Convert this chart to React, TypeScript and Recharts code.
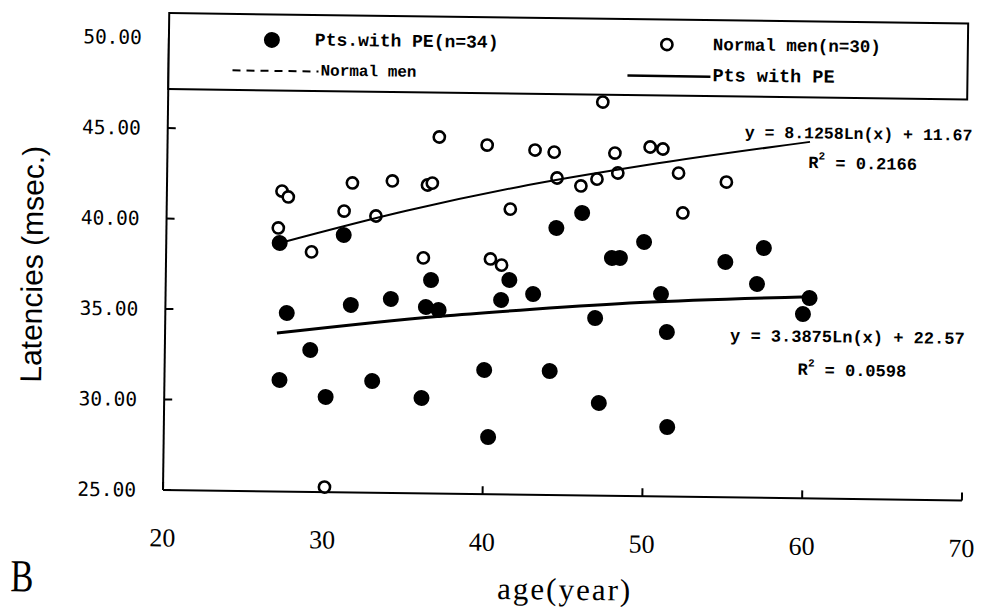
import React from 'react';
import { ScatterChart, Scatter, XAxis, YAxis } from 'recharts';

const ageTicks = [20, 30, 40, 50, 60, 70];
const latencyTicks = [25, 30, 35, 40, 45, 50];

// Pts. with PE (n=34) - filled dots
const peAges = [27.1, 27.6, 27.2, 29.1, 31.1, 31.6, 30.1, 33.0, 34.1, 36.1, 36.3, 37.1, 36.6, 40.0, 40.3, 41.0, 41.5, 43.0, 44.4, 44.1, 46.0, 46.9, 47.2, 47.9, 48.4, 49.9, 51.0, 51.4, 51.5, 55.0, 57.4, 57.0, 60.3, 59.9];
const peLatencies = [38.73, 34.87, 31.16, 32.84, 39.22, 35.36, 30.26, 31.17, 35.72, 30.27, 35.3, 35.14, 36.79, 31.86, 28.16, 35.74, 36.85, 36.09, 39.76, 31.85, 40.61, 34.81, 30.12, 38.14, 38.15, 39.05, 36.19, 34.09, 28.84, 38.0, 38.8, 36.81, 36.07, 35.18];

// Normal men (n=30) - open dots
const normalAges = [37.0, 31.6, 34.1, 36.3, 36.6, 27.2, 27.6, 31.1, 33.1, 27.0, 29.1, 36.1, 40.0, 43.0, 44.2, 47.2, 48.0, 44.4, 45.9, 46.9, 48.2, 41.5, 40.3, 41.0, 50.2, 51.0, 52.0, 55.0, 52.3, 30.1];
const normalLatencies = [44.7, 42.1, 42.24, 42.04, 42.15, 41.6, 41.28, 40.54, 40.29, 39.56, 38.26, 38.01, 44.29, 44.05, 43.95, 46.75, 43.94, 42.52, 42.1, 42.49, 42.84, 40.77, 38.0, 37.67, 44.3, 44.2, 42.88, 42.42, 40.68, 25.28];

// logarithmic trend lines
const normalFitAges = [27.0, 35, 42, 50, 60.2];
const normalFitLatencies = [38.7, 40.6, 42.0, 43.3, 44.7];
const peFitAges = [27.0, 37.2, 43, 49.7, 60.3];
const peFitLatencies = [33.75, 34.8, 35.25, 35.7, 36.15];

const toPoints = (ages: number[], lat: number[]) =>
  ages.map((age, i) => ({ age, latency: lat[i] }));

const FilledDot = (props: any) => <circle cx={props.cx} cy={props.cy} r={8} fill="#000" />;
const OpenDot = (props: any) => (
  <circle cx={props.cx} cy={props.cy} r={5.6} fill="#fff" stroke="#000" strokeWidth={2.6} />
);
const NoDot = () => <g />;

const mono = '"Liberation Mono", monospace';
const serif = '"Liberation Serif", serif';

export default function App() {
  return (
    <div style={{ position: 'absolute', left: 0, top: 0, width: 996, height: 609, background: '#fff', overflow: 'hidden' }}>
      {/* the scanned figure is tilted a little clockwise */}
      <div style={{ position: 'absolute', left: 0, top: 0, width: 996, height: 609, transform: 'rotate(0.75deg)', transformOrigin: '163px 490px' }}>
        <ScatterChart width={996} height={609} margin={{ top: 37.5, right: 34, bottom: 59, left: 103 }}>
          <XAxis
            type="number"
            dataKey="age"
            domain={[20, 70]}
            ticks={ageTicks}
            interval={0}
            height={60}
            axisLine={{ stroke: '#000', strokeWidth: 2 }}
            tickLine={{ stroke: '#000', strokeWidth: 2 }}
            tickSize={-8}
            tickMargin={46}
            tick={{ fill: '#000', fontFamily: serif, fontSize: 26 }}
          />
          <YAxis
            type="number"
            dataKey="latency"
            domain={[25, 50]}
            ticks={latencyTicks}
            interval={0}
            width={60}
            axisLine={{ stroke: '#000', strokeWidth: 2 }}
            tickLine={{ stroke: '#000', strokeWidth: 2 }}
            tickSize={-8}
            tickMargin={35}
            tickFormatter={(v: number) => v.toFixed(2)}
            tick={{ fill: '#000', fontFamily: '"DejaVu Sans Mono", monospace', fontSize: 19.5 }}
          />
          <Scatter data={toPoints(peAges, peLatencies)} shape={FilledDot} isAnimationActive={false} />
          <Scatter data={toPoints(normalAges, normalLatencies)} shape={OpenDot} isAnimationActive={false} />
          <Scatter
            data={toPoints(normalFitAges, normalFitLatencies)}
            shape={NoDot}
            line={{ stroke: '#000', strokeWidth: 2 }}
            lineJointType="monotoneX"
            isAnimationActive={false}
          />
          <Scatter
            data={toPoints(peFitAges, peFitLatencies)}
            shape={NoDot}
            line={{ stroke: '#000', strokeWidth: 3 }}
            lineJointType="monotoneX"
            isAnimationActive={false}
          />
        </ScatterChart>

        <svg width={996} height={609} style={{ position: 'absolute', left: 0, top: 0, pointerEvents: 'none' }}>
          {/* legend box */}
          <rect x={163} y={13} width={799} height={76} fill="#fff" stroke="#000" strokeWidth={2} />
          <circle cx={266} cy={38.5} r={8} fill="#000" />
          <text x={309} y={38.5} fontFamily={mono} fontWeight="bold" fontSize={18} dominantBaseline="central">Pts.with PE(n=34)</text>
          <circle cx={661} cy={38} r={5.6} fill="#fff" stroke="#000" strokeWidth={2.6} />
          <text x={707} y={38} fontFamily={mono} fontWeight="bold" fontSize={17.5} dominantBaseline="central">Normal men(n=30)</text>
          <line x1={227} x2={313} y1={69.5} y2={69.5} stroke="#000" strokeWidth={2} strokeDasharray="8 6" />
          <text x={315} y={69.5} fontFamily={mono} fontWeight="bold" fontSize={16} dominantBaseline="central">Normal men</text>
          <line x1={622} x2={705} y1={69.5} y2={69.5} stroke="#000" strokeWidth={2.5} />
          <text x={707} y={69.5} fontFamily={mono} fontWeight="bold" fontSize={18.5} dominantBaseline="central">Pts with PE</text>

          {/* trend line equations */}
          <text x={740} y={125.5} fontFamily={mono} fontWeight="bold" fontSize={16.5} dominantBaseline="central">y = 8.1258Ln(x) + 11.67</text>
          <text x={804} y={155} fontFamily={mono} fontWeight="bold" fontSize={17} dominantBaseline="central">
            R<tspan dy={-7} fontSize={11}>2</tspan><tspan dy={7}> = 0.2166</tspan>
          </text>
          <text x={728} y={329} fontFamily={mono} fontWeight="bold" fontSize={17} dominantBaseline="central">y = 3.3875Ln(x) + 22.57</text>
          <text x={796} y={362} fontFamily={mono} fontWeight="bold" fontSize={17} dominantBaseline="central">
            R<tspan dy={-7} fontSize={11}>2</tspan><tspan dy={7}> = 0.0598</tspan>
          </text>

          {/* axis titles and panel letter */}
          <text x={29} y={266} transform="rotate(-90, 29, 266)" textAnchor="middle" dominantBaseline="central" fontFamily='"Liberation Sans", sans-serif' fontSize={30}>Latencies (msec.)</text>
          <text x={566} y={584} textAnchor="middle" dominantBaseline="central" fontFamily={serif} fontSize={31} letterSpacing={2}>age(year)</text>
          <text x={23} y={578} textAnchor="middle" dominantBaseline="central" fontFamily={serif} fontSize={46} transform="translate(23 0) scale(0.75 1) translate(-23 0)">B</text>
        </svg>
      </div>
    </div>
  );
}
